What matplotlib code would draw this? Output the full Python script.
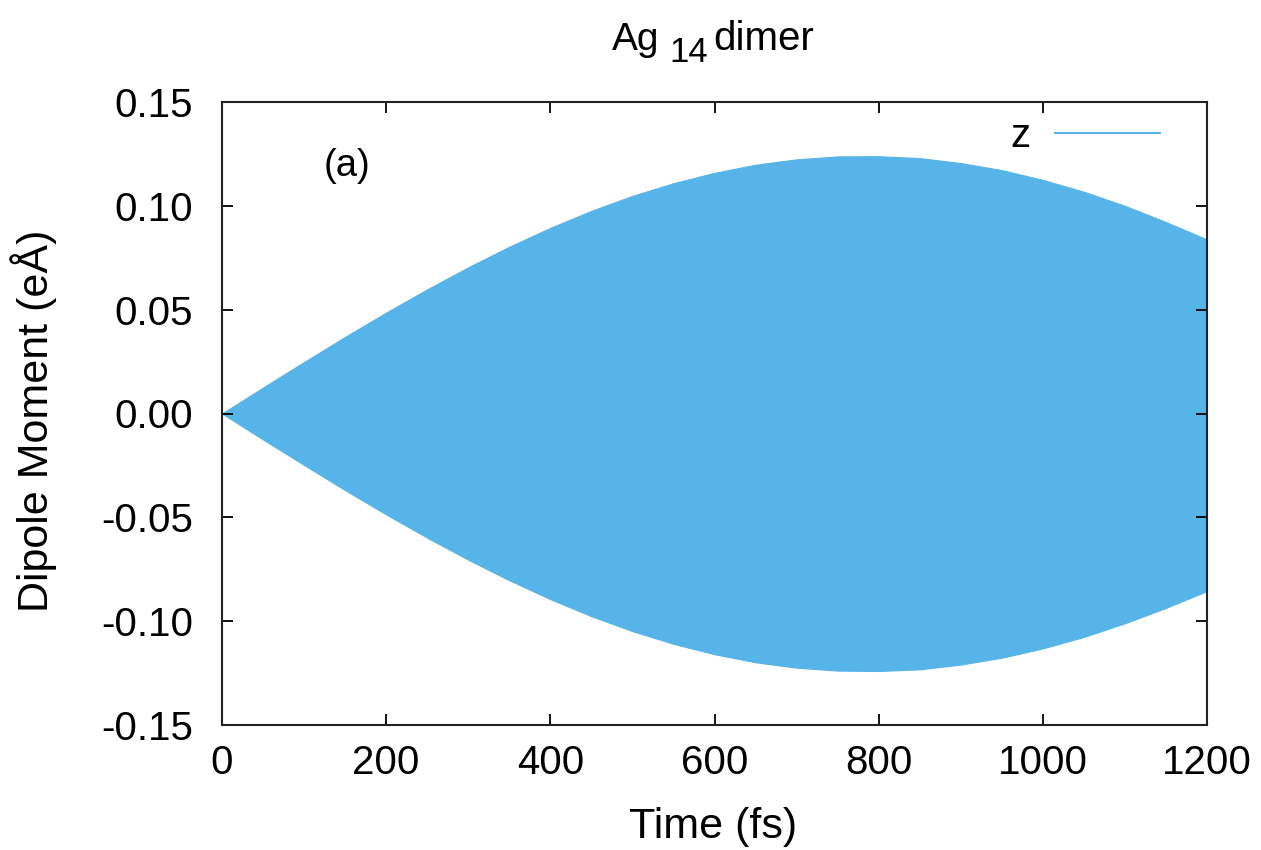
import matplotlib
matplotlib.use("Agg")
import matplotlib.pyplot as plt
from matplotlib.lines import Line2D

plt.rcParams['font.family'] = ['Liberation Sans', 'DejaVu Sans']

# Envelope of the rapidly oscillating z dipole moment
time_fs = [0, 50, 100, 150, 200, 250, 300, 350, 400, 450, 500, 550, 600, 650,
           700, 750, 800, 850, 900, 950, 1000, 1050, 1100, 1150, 1200]
amp_upper = [0.0, 0.0125, 0.0248, 0.0369, 0.0486, 0.0598, 0.0704, 0.0803, 0.0894,
             0.0976, 0.1048, 0.1109, 0.1159, 0.1198, 0.1224, 0.1238, 0.1239,
             0.1230, 0.1206, 0.1172, 0.1125, 0.1068, 0.1000, 0.0922, 0.0838]
amp_lower = [0.0, -0.0125, -0.0248, -0.0369, -0.0486, -0.0598, -0.0704, -0.0803, -0.0894,
             -0.0976, -0.1048, -0.1109, -0.1159, -0.1198, -0.1224, -0.1238, -0.1240,
             -0.1232, -0.1209, -0.1176, -0.1131, -0.1076, -0.1010, -0.0936, -0.0855]
xticks = [0, 200, 400, 600, 800, 1000, 1200]
yticks = [-0.15, -0.10, -0.05, 0.00, 0.05, 0.10, 0.15]
series_name = 'z'
color = '#56B4E9'

W, H = 1261, 850
fig = plt.figure(figsize=(W / 100, H / 100), dpi=100)
ax = fig.add_axes([222 / W, 125 / H, 985 / W, 623 / H])

ax.fill_between(time_fs, amp_lower, amp_upper, color=color, linewidth=0.8,
                edgecolor=color)

ax.set_xlim(0, 1200)
ax.set_ylim(-0.15, 0.15)
ax.set_xticks(xticks)
ax.set_yticks(yticks)
ax.set_yticklabels([f"{v:.2f}" for v in yticks])
ax.tick_params(direction='in', length=8, width=1.3, top=True, right=True,
               labelsize=29, colors='black')
ax.tick_params(axis='x', pad=14)
ax.tick_params(axis='y', pad=21)
for s in ax.spines.values():
    s.set_linewidth(1.5)
    s.set_color('#222222')

ax.set_xlabel('Time (fs)', fontsize=31)
ax.xaxis.set_label_coords(0.499, -0.132)
ax.set_ylabel('Dipole Moment (eÅ)', fontsize=31)
ax.yaxis.set_label_coords(-0.1675, 0.488)

# Title: Ag_14 dimer with a large gnuplot-style subscript
fig.text(612 / W, 1 - 50 / H, 'Ag', fontsize=28, ha='left', va='baseline')
fig.text(669 / W, 1 - 62 / H, '14', fontsize=25, ha='left', va='baseline')
fig.text(713 / W, 1 - 50 / H, 'dimer', fontsize=29, ha='left', va='baseline')

ax.text(152, 0.1194, '(a)', fontsize=27.5, ha='center', va='center')

handle = Line2D([0], [0], color=color, linewidth=1.5)
ax.legend([handle], [series_name], loc='upper right', frameon=False, markerfirst=False,
          fontsize=29, handlelength=2.6, handletextpad=0.6, borderpad=0,
          borderaxespad=0, bbox_to_anchor=(0.952, 0.976))

fig.savefig('out.png', dpi=100)
